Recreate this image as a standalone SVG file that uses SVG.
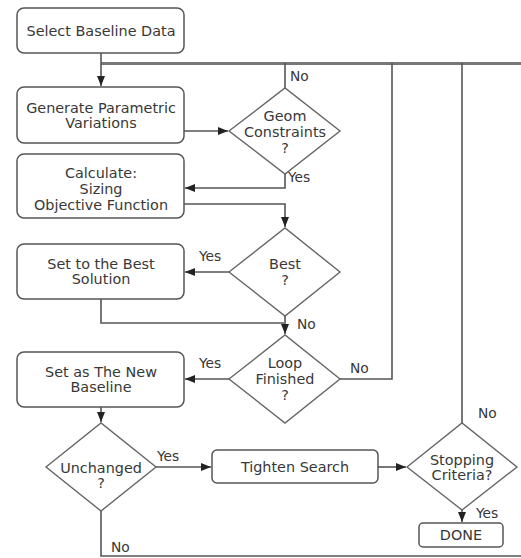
<svg xmlns="http://www.w3.org/2000/svg" width="521" height="558" viewBox="0 0 521 558">
<defs>
<style>
.box{fill:#fff;stroke:#555;stroke-width:1.5}
.dia{fill:#fff;stroke:#666;stroke-width:1.4}
.t{font-family:"DejaVu Sans","Liberation Sans",sans-serif;font-size:14.4px;fill:#383838;text-anchor:middle}
.lb{font-family:"DejaVu Sans","Liberation Sans",sans-serif;font-size:13.8px;fill:#383838}
.c{fill:none;stroke:#555;stroke-width:1.6}
.main{fill:none;stroke:#777;stroke-width:3}
</style>
<marker id="ah" markerUnits="userSpaceOnUse" markerWidth="10" markerHeight="10" viewBox="0 0 10 10" refX="10" refY="5" orient="auto">
<path d="M0,1 L10,5 L0,9 Z" fill="#222"/>
</marker>
</defs>
<rect width="521" height="558" fill="#fff"/>
<g id="connectors">
<path class="main" d="M101,63.5 H521"/>
<path class="c" d="M101,53 V86" marker-end="url(#ah)"/>
<path class="c" d="M184,131 H228" marker-end="url(#ah)"/>
<path class="c" d="M285,88 V63"/>
<path class="c" d="M285,174 V188 H185" marker-end="url(#ah)"/>
<path class="c" d="M184,204 H285 V227" marker-end="url(#ah)"/>
<path class="c" d="M229,272 H185" marker-end="url(#ah)"/>
<path class="c" d="M101,299 V323 H284"/>
<path class="c" d="M285,316 V334" marker-end="url(#ah)"/>
<path class="c" d="M229,379 H185" marker-end="url(#ah)"/>
<path class="c" d="M339,379 H392 V63"/>
<path class="c" d="M101,407 V422" marker-end="url(#ah)"/>
<path class="c" d="M156,467 H211" marker-end="url(#ah)"/>
<path class="c" d="M378,467 H406" marker-end="url(#ah)"/>
<path class="c" d="M462,423 V63"/>
<path class="c" d="M462,510 V522" marker-end="url(#ah)"/>
<path class="c" d="M101,511 V556 H521"/>
<text class="lb" x="290" y="81">No</text>
<text class="lb" x="288" y="182">Yes</text>
<text class="lb" x="199" y="261">Yes</text>
<text class="lb" x="297" y="329">No</text>
<text class="lb" x="199" y="368">Yes</text>
<text class="lb" x="350" y="373">No</text>
<text class="lb" x="157" y="461">Yes</text>
<text class="lb" x="478" y="418">No</text>
<text class="lb" x="476" y="518">Yes</text>
<text class="lb" x="111" y="552">No</text>
</g>
<g id="select"><rect class="box" x="17" y="8" width="167" height="45" rx="7"/><text class="t" x="101" y="36">Select Baseline Data</text></g>
<g id="generate"><rect class="box" x="17" y="87" width="167" height="56" rx="7"/><text class="t" x="101" y="113">Generate Parametric</text><text class="t" x="101" y="128">Variations</text></g>
<g id="geom"><polygon class="dia" points="229,131 285,88 340,131 285,174"/><text class="t" x="285" y="121">Geom</text><text class="t" x="285" y="137">Constraints</text><text class="t" x="285" y="153">?</text></g>
<g id="calculate"><rect class="box" x="17" y="154" width="167" height="64" rx="7"/><text class="t" x="101" y="178">Calculate:</text><text class="t" x="101" y="194">Sizing</text><text class="t" x="101" y="210">Objective Function</text></g>
<g id="best"><polygon class="dia" points="229,272 285,228 340,272 285,316"/><text class="t" x="285" y="269">Best</text><text class="t" x="285" y="285">?</text></g>
<g id="bestsolution"><rect class="box" x="17" y="244" width="167" height="55" rx="7"/><text class="t" x="101" y="269">Set to the Best</text><text class="t" x="101" y="284">Solution</text></g>
<g id="loop"><polygon class="dia" points="229,379 285,335 340,379 285,423"/><text class="t" x="285" y="368">Loop</text><text class="t" x="285" y="384">Finished</text><text class="t" x="285" y="400">?</text></g>
<g id="newbaseline"><rect class="box" x="17" y="352" width="167" height="55" rx="7"/><text class="t" x="101" y="377">Set as The New</text><text class="t" x="101" y="392">Baseline</text></g>
<g id="unchanged"><polygon class="dia" points="46,467 101,423 156,467 101,511"/><text class="t" x="101" y="473">Unchanged</text><text class="t" x="101" y="488">?</text></g>
<g id="tighten"><rect class="box" x="212" y="450" width="166" height="33" rx="5"/><text class="t" x="295" y="472">Tighten Search</text></g>
<g id="stopping"><polygon class="dia" points="407,467 462,423 517,467 462,510"/><text class="t" x="462" y="465">Stopping</text><text class="t" x="462" y="480">Criteria?</text></g>
<g id="done"><rect class="box" x="419" y="523" width="84" height="24" rx="4"/><text class="t" x="461" y="540">DONE</text></g>
</svg>
